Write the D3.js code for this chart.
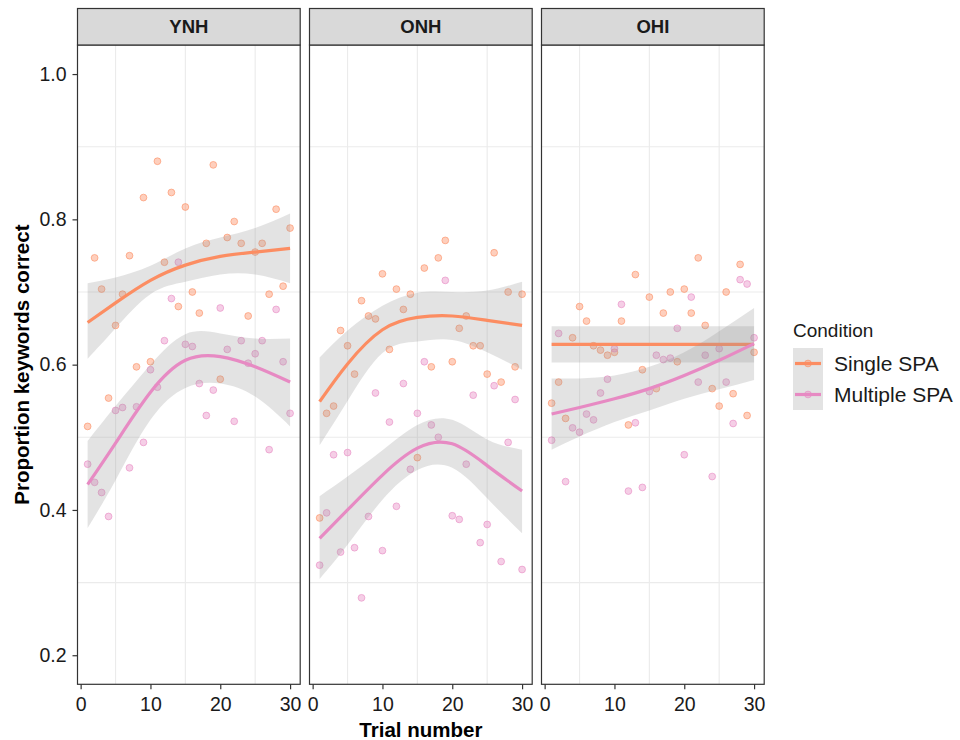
<!DOCTYPE html>
<html>
<head>
<meta charset="utf-8">
<script src="https://cdn.jsdelivr.net/npm/d3@7"></script>
<style>
  body { margin: 0; background: #fff; }
  svg { display: block; }
</style>
</head>
<body>
<svg id="chart" width="960" height="740"></svg>
<script>
// ---- data ---------------------------------------------------------------
const panelNames = ["YNH", "ONH", "OHI"];
const conditionNames = ["Single SPA", "Multiple SPA"];
const conditionColors = ["#FC8D62", "#E78AC3"];

const trialNumbers = [1, 2, 3, 4, 5, 6, 7, 8, 9, 10, 11, 12, 13, 14, 15,
                      16, 17, 18, 19, 20, 21, 22, 23, 24, 25, 26, 27, 28, 29, 30];

// proportion of keywords correct per trial
const ynhSingle   = [0.515, 0.747, 0.704, 0.554, 0.654, 0.697, 0.750, 0.597, 0.830, 0.604, 0.880, 0.741, 0.837, 0.680, 0.817,
                     0.700, 0.671, 0.767, 0.875, 0.580, 0.775, 0.797, 0.767, 0.667, 0.755, 0.767, 0.697, 0.814, 0.708, 0.788];
const ynhMultiple = [0.463, 0.438, 0.424, 0.391, 0.537, 0.541, 0.458, 0.542, 0.493, 0.593, 0.569, 0.633, 0.691, 0.741, 0.628,
                     0.625, 0.574, 0.530, 0.565, 0.678, 0.621, 0.522, 0.633, 0.602, 0.615, 0.633, 0.483, 0.676, 0.604, 0.533];
const onhSingle   = [0.389, 0.533, 0.543, 0.647, 0.626, 0.587, 0.688, 0.667, 0.663, 0.725, 0.621, 0.704, 0.676, 0.697, 0.472,
                     0.733, 0.597, 0.747, 0.771, 0.604, 0.650, 0.667, 0.626, 0.626, 0.587, 0.754, 0.576, 0.700, 0.597, 0.697];
const onhMultiple = [0.324, 0.396, 0.476, 0.342, 0.479, 0.348, 0.279, 0.391, 0.561, 0.344, 0.521, 0.405, 0.574, 0.456, 0.533,
                     0.604, 0.517, 0.500, 0.716, 0.392, 0.387, 0.463, 0.558, 0.355, 0.380, 0.571, 0.329, 0.493, 0.552, 0.318];
const ohiSingle   = [0.547, 0.576, 0.526, 0.637, 0.680, 0.660, 0.626, 0.620, 0.613, 0.617, 0.660, 0.517, 0.724, 0.593, 0.693,
                     0.567, 0.671, 0.700, 0.604, 0.704, 0.671, 0.747, 0.654, 0.567, 0.543, 0.700, 0.560, 0.738, 0.530, 0.617];
const ohiMultiple = [0.496, 0.643, 0.439, 0.513, 0.507, 0.532, 0.524, 0.561, 0.580, 0.622, 0.683, 0.426, 0.520, 0.431, 0.563,
                     0.613, 0.607, 0.609, 0.650, 0.476, 0.693, 0.576, 0.613, 0.446, 0.622, 0.576, 0.519, 0.717, 0.711, 0.637];

// smoothed trend with confidence band, sampled at these trials
const fitTrials = [1, 5, 10, 15, 20, 25, 30];
const ynhSingleFit   = [0.658, 0.685, 0.716, 0.737, 0.749, 0.755, 0.760];
const ynhSingleLo    = [0.608, 0.650, 0.697, 0.714, 0.724, 0.724, 0.712];
const ynhSingleHi    = [0.712, 0.720, 0.736, 0.760, 0.775, 0.788, 0.808];
const ynhMultipleFit = [0.435, 0.492, 0.562, 0.606, 0.611, 0.597, 0.576];
const ynhMultipleLo  = [0.375, 0.441, 0.524, 0.568, 0.574, 0.556, 0.515];
const ynhMultipleHi  = [0.495, 0.543, 0.600, 0.642, 0.643, 0.636, 0.636];
const onhSingleFit   = [0.549, 0.601, 0.648, 0.665, 0.667, 0.661, 0.654];
const onhSingleLo    = [0.489, 0.550, 0.616, 0.632, 0.634, 0.617, 0.593];
const onhSingleHi    = [0.610, 0.647, 0.681, 0.699, 0.700, 0.702, 0.714];
const onhMultipleFit = [0.361, 0.400, 0.448, 0.485, 0.491, 0.461, 0.426];
const onhMultipleLo  = [0.305, 0.352, 0.414, 0.455, 0.458, 0.416, 0.368];
const onhMultipleHi  = [0.419, 0.446, 0.482, 0.517, 0.524, 0.497, 0.483];
const ohiSingleFit   = [0.628, 0.628, 0.628, 0.628, 0.628, 0.628, 0.628];
const ohiSingleLo    = [0.603, 0.603, 0.603, 0.603, 0.603, 0.603, 0.603];
const ohiSingleHi    = [0.653, 0.653, 0.653, 0.653, 0.653, 0.653, 0.653];
const ohiMultipleFit = [0.532, 0.541, 0.553, 0.567, 0.585, 0.606, 0.629];
const ohiMultipleLo  = [0.483, 0.501, 0.521, 0.537, 0.553, 0.566, 0.579];
const ohiMultipleHi  = [0.581, 0.581, 0.585, 0.597, 0.617, 0.646, 0.678];

const xTicks = [0, 10, 20, 30];
const xTickLabels = ["0", "10", "20", "30"];
const yTicks = [0.2, 0.4, 0.6, 0.8, 1.0];
const yTickLabels = ["0.2", "0.4", "0.6", "0.8", "1.0"];
const xMinorGrid = [5, 15, 25];
const yMinorGrid = [0.3, 0.5, 0.7, 0.9];

const xTitle = "Trial number";
const yTitle = "Proportion keywords correct";
const legendTitle = "Condition";

// per-panel series: [condition][...]
const panelPoints = [
  [ynhSingle, ynhMultiple],
  [onhSingle, onhMultiple],
  [ohiSingle, ohiMultiple]
];
const panelFits = [
  [[ynhSingleFit, ynhSingleLo, ynhSingleHi], [ynhMultipleFit, ynhMultipleLo, ynhMultipleHi]],
  [[onhSingleFit, onhSingleLo, onhSingleHi], [onhMultipleFit, onhMultipleLo, onhMultipleHi]],
  [[ohiSingleFit, ohiSingleLo, ohiSingleHi], [ohiMultipleFit, ohiMultipleLo, ohiMultipleHi]]
];

// ---- layout -------------------------------------------------------------
const font = "'Liberation Sans', Arial, Helvetica, sans-serif";
const stripTop = 8.5;
const plotTop = 45;
const plotBottom = 684.3;
const panelLeft = [77.5, 309.5, 541.5];
const panelWidth = 222.7;
const inkDark = "#333333";
const textColor = "#1a1a1a";
const bandFill = "#999999";
const bandOpacity = 0.27;

const svg = d3.select("#chart");

const y = d3.scaleLinear().domain([0.16, 1.04]).range([plotBottom, plotTop]);
const x = d3.scaleLinear().domain([-0.45, 31.45]).range([0, panelWidth]);

panelNames.forEach((name, p) => {
  const g = svg.append("g").attr("transform", `translate(${panelLeft[p]},0)`);

  // minor grid
  g.selectAll("line.vgrid").data(xMinorGrid).join("line")
    .attr("x1", d => x(d)).attr("x2", d => x(d))
    .attr("y1", plotTop).attr("y2", plotBottom)
    .attr("stroke", "#ebebeb").attr("stroke-width", 1.1);
  g.selectAll("line.hgrid").data(yMinorGrid).join("line")
    .attr("x1", 0).attr("x2", panelWidth)
    .attr("y1", d => y(d)).attr("y2", d => y(d))
    .attr("stroke", "#ebebeb").attr("stroke-width", 1.1);

  // raw trial points
  conditionNames.forEach((cond, c) => {
    g.append("g").selectAll("circle")
      .data(panelPoints[p][c].map((v, i) => ({ t: trialNumbers[i], v })))
      .join("circle")
      .attr("cx", d => x(d.t))
      .attr("cy", d => y(d.v))
      .attr("r", 3.4)
      .attr("fill", conditionColors[c]).attr("fill-opacity", 0.42)
      .attr("stroke", conditionColors[c]).attr("stroke-opacity", 0.6)
      .attr("stroke-width", 1);
  });

  // smoothed trends with confidence ribbons
  conditionNames.forEach((cond, c) => {
    const [fit, lo, hi] = panelFits[p][c];
    const rows = fitTrials.map((t, i) => ({ t, fit: fit[i], lo: lo[i], hi: hi[i] }));
    const area = d3.area()
      .x(d => x(d.t)).y0(d => y(d.lo)).y1(d => y(d.hi))
      .curve(d3.curveNatural);
    const line = d3.line()
      .x(d => x(d.t)).y(d => y(d.fit))
      .curve(d3.curveNatural);
    g.append("path").datum(rows).attr("d", area)
      .attr("fill", bandFill).attr("fill-opacity", bandOpacity);
    g.append("path").datum(rows).attr("d", line)
      .attr("fill", "none").attr("stroke", conditionColors[c])
      .attr("stroke-width", 3.2);
  });

  // panel border
  g.append("rect")
    .attr("x", 0).attr("y", plotTop)
    .attr("width", panelWidth).attr("height", plotBottom - plotTop)
    .attr("fill", "none").attr("stroke", inkDark).attr("stroke-width", 1.2);

  // facet strip
  g.append("rect")
    .attr("x", 0).attr("y", stripTop)
    .attr("width", panelWidth).attr("height", plotTop - stripTop)
    .attr("fill", "#d9d9d9").attr("stroke", inkDark).attr("stroke-width", 1.2);
  g.append("text")
    .attr("x", panelWidth / 2).attr("y", (stripTop + plotTop) / 2)
    .attr("dy", "0.36em").attr("text-anchor", "middle")
    .attr("font-family", font).attr("font-weight", "bold").attr("font-size", 18.5)
    .attr("fill", textColor).text(name);

  // x axis
  const xAxis = d3.axisBottom(x).tickValues(xTicks)
    .tickFormat((d, i) => xTickLabels[i]).tickSize(5).tickPadding(8);
  const xa = g.append("g").attr("transform", `translate(0,${plotBottom})`).call(xAxis);
  xa.select(".domain").remove();
  xa.selectAll(".tick line").attr("stroke", inkDark).attr("stroke-width", 1.2);
  xa.selectAll(".tick text").attr("font-family", font).attr("font-size", 19.5).attr("fill", textColor);

  // y axis on the first panel only
  if (p === 0) {
    const yAxis = d3.axisLeft(y).tickValues(yTicks)
      .tickFormat((d, i) => yTickLabels[i]).tickSize(5).tickPadding(6);
    const ya = g.append("g").call(yAxis);
    ya.select(".domain").remove();
    ya.selectAll(".tick line").attr("stroke", inkDark).attr("stroke-width", 1.2);
    ya.selectAll(".tick text").attr("font-family", font).attr("font-size", 19.5).attr("fill", textColor);
  }
});

// axis titles
svg.append("text")
  .attr("x", (panelLeft[0] + panelLeft[2] + panelWidth) / 2).attr("y", 737)
  .attr("text-anchor", "middle")
  .attr("font-family", font).attr("font-weight", "bold").attr("font-size", 20.5)
  .attr("fill", "#000").text(xTitle);
svg.append("text")
  .attr("transform", `translate(29,${(plotTop + plotBottom) / 2}) rotate(-90)`)
  .attr("text-anchor", "middle")
  .attr("font-family", font).attr("font-weight", "bold").attr("font-size", 20.5)
  .attr("fill", "#000").text(yTitle);

// legend
const legend = svg.append("g").attr("transform", "translate(793,0)");
legend.append("text")
  .attr("x", 0).attr("y", 337)
  .attr("font-family", font).attr("font-size", 19)
  .attr("fill", textColor).text(legendTitle);
const keyTop = 348, keyH = 31, keyW = 30;
conditionNames.forEach((cond, c) => {
  const ky = keyTop + c * keyH;
  legend.append("rect")
    .attr("x", 0).attr("y", ky).attr("width", keyW).attr("height", keyH)
    .attr("fill", bandFill).attr("fill-opacity", bandOpacity);
  legend.append("circle")
    .attr("cx", keyW / 2).attr("cy", ky + keyH / 2).attr("r", 3.4)
    .attr("fill", conditionColors[c]).attr("fill-opacity", 0.42)
    .attr("stroke", conditionColors[c]).attr("stroke-opacity", 0.6);
  legend.append("line")
    .attr("x1", 2).attr("x2", keyW - 2)
    .attr("y1", ky + keyH / 2).attr("y2", ky + keyH / 2)
    .attr("stroke", conditionColors[c]).attr("stroke-width", 3.2);
  legend.append("text")
    .attr("x", 41).attr("y", ky + keyH / 2).attr("dy", "0.36em")
    .attr("font-family", font).attr("font-size", 21)
    .attr("fill", textColor).text(cond);
});
</script>
</body>
</html>
